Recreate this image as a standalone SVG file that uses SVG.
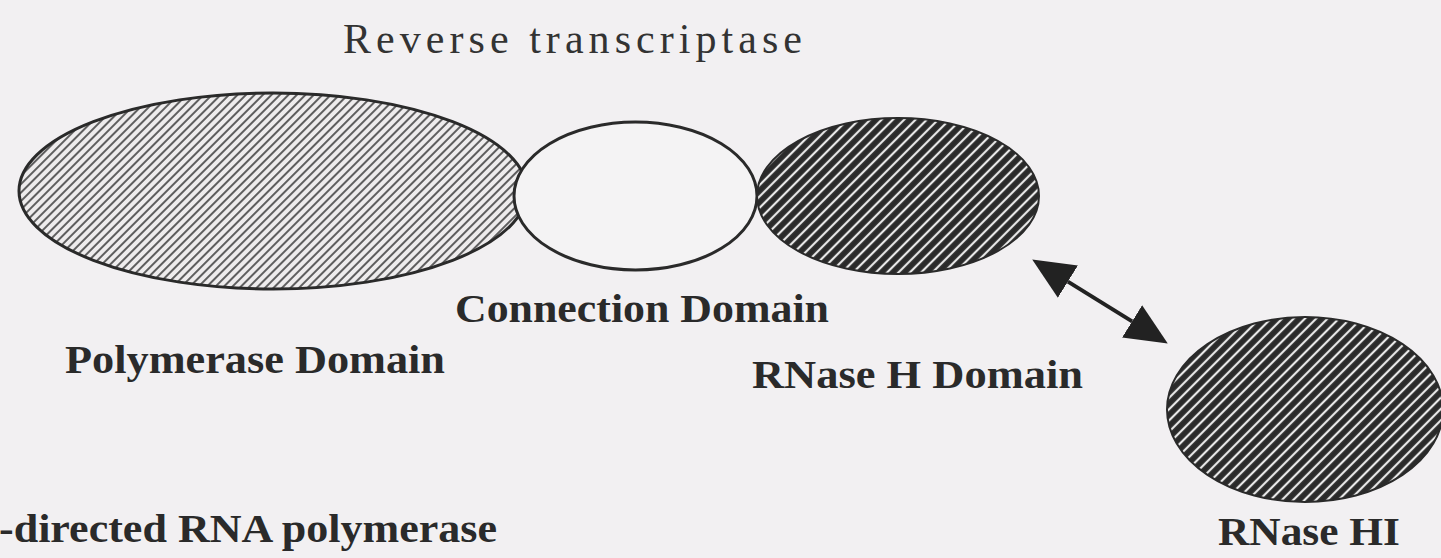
<svg xmlns="http://www.w3.org/2000/svg" width="1441" height="558" viewBox="0 0 1441 558">
<style>
.lbl{font-family:"Liberation Serif","Times New Roman",serif;font-weight:bold;font-size:39px;fill:#2a2a2a}
.title{font-family:"Liberation Serif","Times New Roman",serif;font-size:42px;fill:#333}
.outline{stroke:#2a2a2a;stroke-width:3}
.conn{stroke:#222;stroke-width:4;fill:none}
</style>
<defs>
<pattern id="lightHatch" width="6" height="6" patternUnits="userSpaceOnUse" patternTransform="rotate(45)">
<rect width="6" height="6" fill="#eeeced"/>
<line x1="1" y1="0" x2="1" y2="6" stroke="#3a3a3a" stroke-width="1.6"/>
</pattern>
<pattern id="darkHatch" width="8" height="8" patternUnits="userSpaceOnUse" patternTransform="rotate(45)">
<rect width="8" height="8" fill="#2a2a2a"/>
<line x1="4" y1="0" x2="4" y2="8" stroke="#e8e8e8" stroke-width="2.2"/>
</pattern>
<marker id="head" viewBox="0 0 42 38" refX="0" refY="19" markerWidth="42" markerHeight="38" markerUnits="userSpaceOnUse" orient="auto-start-reverse">
<path d="M0,0 L42,19 L0,38 z" fill="#222"/>
</marker>
</defs>
<rect width="1441" height="558" fill="#f2f0f2"/>
<text class="title" x="343" y="53" textLength="459" lengthAdjust="spacing">Reverse transcriptase</text>
<g id="polymerase">
<ellipse cx="273" cy="191" rx="254" ry="98" fill="url(#lightHatch)" class="outline"/>
<text class="lbl" x="65" y="373" textLength="380" lengthAdjust="spacingAndGlyphs">Polymerase Domain</text>
</g>
<g id="connection">
<ellipse cx="635.5" cy="196" rx="121.5" ry="74" fill="#f4f3f4" class="outline"/>
<text class="lbl" x="455" y="322" textLength="374" lengthAdjust="spacingAndGlyphs">Connection Domain</text>
</g>
<g id="rnaseh">
<ellipse cx="898" cy="196" rx="141" ry="78" fill="url(#darkHatch)" stroke="#2a2a2a" stroke-width="2"/>
<text class="lbl" x="752" y="388" textLength="331" lengthAdjust="spacingAndGlyphs">RNase H Domain</text>
</g>
<g id="rnasehi">
<ellipse cx="1305" cy="409.5" rx="138" ry="92.5" fill="url(#darkHatch)" stroke="#2a2a2a" stroke-width="2"/>
<text class="lbl" x="1218" y="545" textLength="182" lengthAdjust="spacingAndGlyphs">RNase HI</text>
</g>
<g id="rnapol">
<text class="lbl" x="-1" y="542" textLength="498" lengthAdjust="spacingAndGlyphs">-directed RNA polymerase</text>
</g>
<g id="connectors">
<line class="conn" x1="1067.9" y1="281.6" x2="1132.1" y2="321.4" marker-start="url(#head)" marker-end="url(#head)"/>
</g>
</svg>
